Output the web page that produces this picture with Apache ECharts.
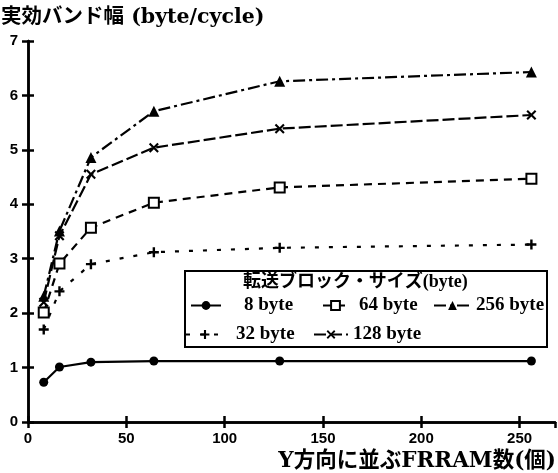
<!DOCTYPE html>
<html><head><meta charset="utf-8">
<script src="https://cdn.jsdelivr.net/npm/echarts@6/dist/echarts.min.js"></script>
<style>html,body{margin:0;padding:0;background:#fff}#c{width:558px;height:473px}</style>
</head><body><div id="c"></div>
<script>
const xValues = [8, 16, 32, 64, 128, 256];
const s8 = [0.73, 1.01, 1.10, 1.12, 1.12, 1.12];
const s32 = [1.70, 2.40, 2.90, 3.12, 3.20, 3.26];
const s64 = [2.01, 2.91, 3.57, 4.03, 4.31, 4.47];
const s128 = [2.20, 3.42, 4.55, 5.04, 5.39, 5.64];
const s256 = [2.31, 3.51, 4.86, 5.71, 6.26, 6.43];
const xTicks = [0, 50, 100, 150, 200, 250];
const yTicks = [0, 1, 2, 3, 4, 5, 6, 7];
const yTitle = '実効バンド幅 (byte/cycle)';
const xTitle = 'Y方向に並ぶFRRAM数(個)';
const legendTitle = '転送ブロック・サイズ(byte)';

const pairs = ys => xValues.map((x, i) => [x, ys[i]]);
const serif = '"Liberation Serif","Noto Sans CJK JP",serif';
const wideSerif = '"DejaVu Serif","Noto Sans CJK JP",serif';
const sans = '"Liberation Sans",Arial,sans-serif';
const plusPath = 'path://M-1.2,-5 L1.2,-5 L1.2,-1.2 L5,-1.2 L5,1.2 L1.2,1.2 L1.2,5 L-1.2,5 L-1.2,1.2 L-5,1.2 L-5,-1.2 L-1.2,-1.2 Z';
const crossPath = 'path://M-5,-3.5 L-3.5,-5 L0,-1.5 L3.5,-5 L5,-3.5 L1.5,0 L5,3.5 L3.5,5 L0,1.5 L-3.5,5 L-5,3.5 L-1.5,0 Z';

function mk(name, ys, dash, symbol, size, fill) {
  return {
    name, type: 'line', data: pairs(ys), symbol, symbolSize: size,
    lineStyle: { color: '#000', width: 2.2, type: dash },
    itemStyle: { color: fill, borderColor: '#000', borderWidth: fill === '#fff' ? 2 : 0 },
    emphasis: { disabled: true }, z: 3
  };
}

const series = [
  mk('8 byte', s8, 'solid', 'circle', 9, '#000'),
  mk('32 byte', s32, [4, 10], plusPath, 10, '#000'),
  mk('64 byte', s64, [8, 6], 'rect', 10, '#fff'),
  mk('128 byte', s128, [12, 4], crossPath, 10, '#000'),
  mk('256 byte', s256, [12, 4, 3, 4], 'triangle', 11, '#000')
];

function lg(name, left, top, w, pad) {
  return {
    data: [name], left, top, padding: 0, itemWidth: w, itemHeight: 11, itemGap: 0, z: 12,
    selectedMode: false,
    textStyle: { fontFamily: serif, fontSize: 19, fontWeight: 'bold', color: '#000', padding: [0, 0, 0, pad] }
  };
}

const axisCommon = {
  type: 'value', min: 0,
  axisLine: { show: true, lineStyle: { color: '#000', width: 2.5 } },
  axisTick: { show: true, inside: true, length: 6, lineStyle: { color: '#000', width: 2.5 } },
  splitLine: { show: false }
};

const option = {
  animation: false,
  backgroundColor: '#fff',
  grid: { left: 28, right: 3, top: 41, bottom: 51 },
  xAxis: [
    Object.assign({}, axisCommon, { max: 268, interval: 50, position: 'bottom',
      axisLabel: { show: true, showMaxLabel: false, margin: 9, color: '#000', fontFamily: sans, fontSize: 15, fontWeight: 'bold',
        formatter: v => xTicks.includes(v) ? String(v) : '' } }),
    Object.assign({}, axisCommon, { max: 268, interval: 50, position: 'top', axisLabel: { show: false } })
  ],
  yAxis: [
    Object.assign({}, axisCommon, { max: 7, interval: 1, position: 'left',
      axisLabel: { show: true, margin: 10, color: '#000', fontFamily: sans, fontSize: 15, fontWeight: 'bold',
        formatter: v => yTicks.includes(v) ? String(v) : '' } }),
    Object.assign({}, axisCommon, { max: 7, interval: 1, position: 'right', axisLabel: { show: false } })
  ],
  legend: [
    lg('8 byte', 190, 296, 30, 18),
    lg('64 byte', 322, 296, 25, 6),
    lg('256 byte', 433, 296, 37, 0),
    lg('32 byte', 185, 325, 38, 7),
    lg('128 byte', 313, 325, 34, 0)
  ],
  graphic: [
    { type: 'rect', z: 10, shape: { x: 185, y: 271, width: 362, height: 76 },
      style: { fill: '#fff', stroke: '#000', lineWidth: 2 } },
    { type: 'text', z: 11, left: 243, top: 273,
      style: { text: legendTitle, fontFamily: serif, fontSize: 18, fontWeight: 'bold', fill: '#000' } },
    { type: 'text', z: 11, left: 1, top: 7,
      style: { text: yTitle, fontFamily: wideSerif, fontSize: 20.5, fontWeight: 'bold', fill: '#000' } },
    { type: 'text', z: 11, right: 2, bottom: 1,
      style: { text: xTitle, fontFamily: wideSerif, fontSize: 21.5, fontWeight: 'bold', fill: '#000' } }
  ],
  series
};
echarts.init(document.getElementById('c')).setOption(option);
</script></body></html>
